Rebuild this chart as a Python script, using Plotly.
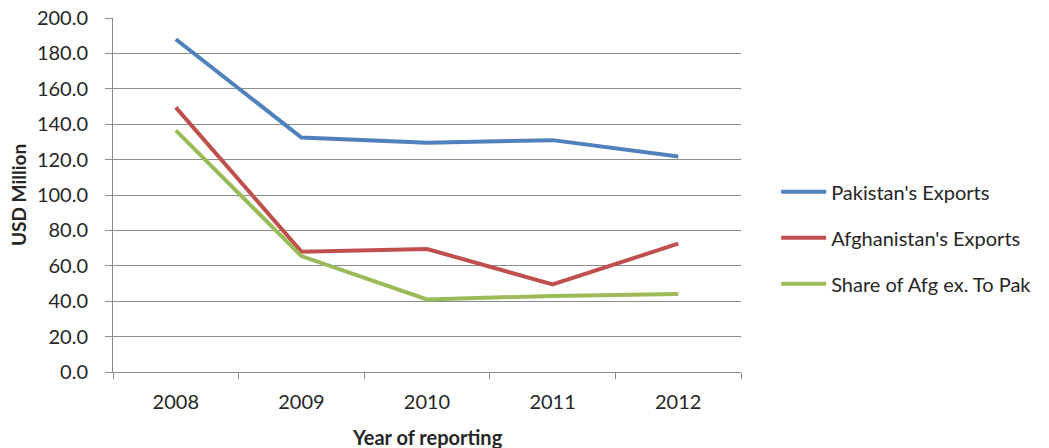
import plotly.graph_objects as go

years = ["2008", "2009", "2010", "2011", "2012"]
pakistan_exports = [188.0, 132.5, 129.5, 131.0, 121.8]
afghanistan_exports = [149.5, 68.0, 69.5, 49.5, 72.5]
share_afg_to_pak = [136.5, 65.5, 41.0, 43.0, 44.0]
series_names = ["Pakistan's Exports", "Afghanistan's Exports", "Share of Afg ex. To Pak"]
series_colors = ["#4F81BD", "#C0504D", "#9BBB59"]
y_ticks = [0, 20, 40, 60, 80, 100, 120, 140, 160, 180, 200]

font_family = "Lato, 'Open Sans', sans-serif"
txt = "#262626"
axis_gray = "#8c8c8c"

fig = go.Figure()
for i, (name, vals, col) in enumerate(zip(series_names,
                                          [pakistan_exports, afghanistan_exports, share_afg_to_pak],
                                          series_colors)):
    fig.add_trace(go.Scatter(x=years, y=vals, mode="lines", name=name,
                             legendgroup=f"g{i}",
                             line=dict(color=col, width=4)))

fig.update_layout(
    width=1049, height=448,
    margin=dict(l=113, r=299, t=18, b=76),
    paper_bgcolor="white", plot_bgcolor="white",
    font=dict(family=font_family, size=20, color=txt),
    showlegend=True,
    legend=dict(x=1.056, xanchor="left", y=0.379, yanchor="middle",
                traceorder="grouped", tracegroupgap=17, itemwidth=45,
                font=dict(size=20, color=txt),
                bgcolor="rgba(0,0,0,0)"),
    xaxis=dict(
        type="category", range=[-0.5, 4.5], automargin=False,
        showline=True, linecolor=axis_gray, linewidth=1,
        ticks="outside", tickson="boundaries", ticklen=6, tickcolor=axis_gray,
        showgrid=False,
        tickfont=dict(size=20, color=txt),
        ticklabelstandoff=12,
    ),
    yaxis=dict(
        range=[0, 200.001], automargin=False,
        tickvals=y_ticks,
        tickformat=".1f",
        ticklabeloverflow="allow",
        showline=True, linecolor=axis_gray, linewidth=1,
        ticks="outside", ticklen=7, tickcolor=axis_gray,
        showgrid=True, gridcolor=axis_gray, gridwidth=1,
        zeroline=False,
        tickfont=dict(size=20, color=txt),
        ticklabelstandoff=13,
    ),
    annotations=[
        dict(text="<b>Year of reporting</b>", xref="paper", yref="paper",
             x=0.5, y=-0.185, xanchor="center", yanchor="middle",
             showarrow=False, font=dict(size=20, color=txt)),
        dict(text="<b>USD Million</b>", xref="paper", yref="paper",
             x=0, y=0.5, xshift=-95, xanchor="center", yanchor="middle",
             textangle=-90, showarrow=False, font=dict(size=19, color=txt)),
    ],
)

fig.write_html("out.html",
               config={"displayModeBar": False, "responsive": False},
               post_script="document.body.style.margin='0';document.body.style.overflow='hidden';")
